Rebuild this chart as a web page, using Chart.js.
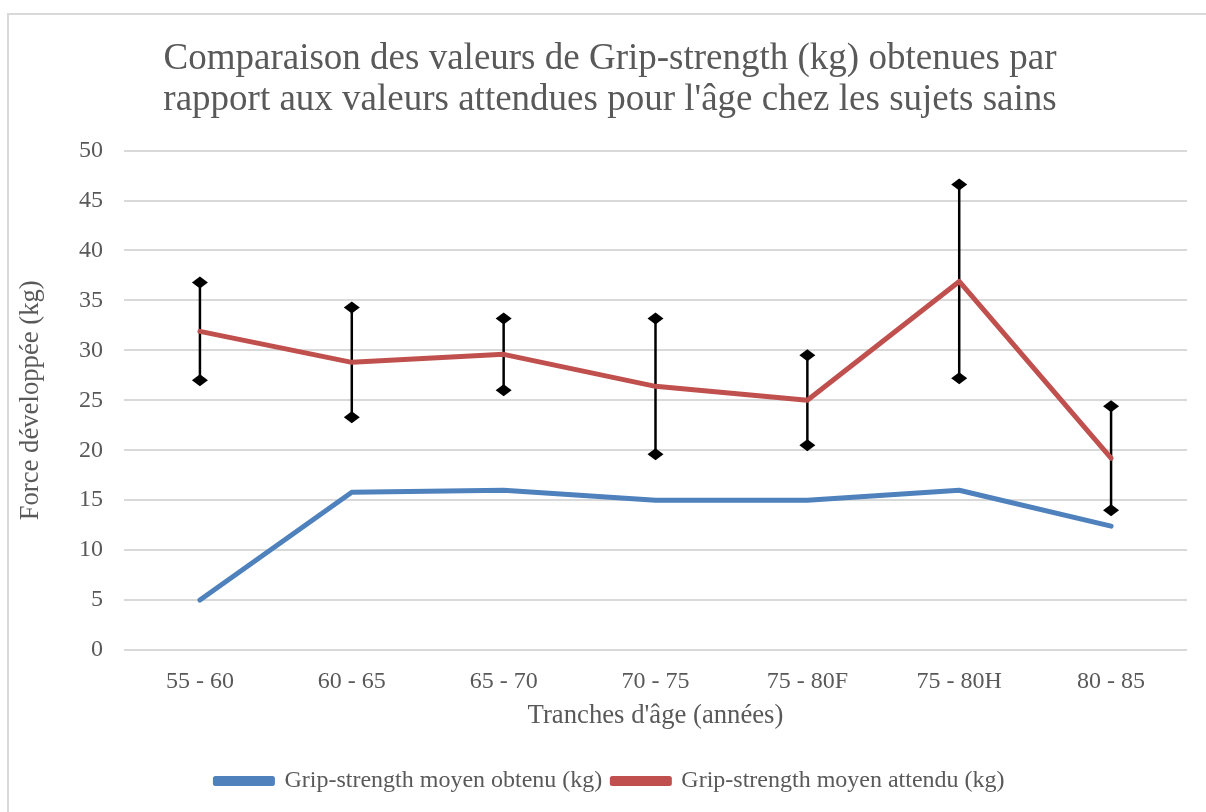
<!DOCTYPE html>
<html>
<head>
<meta charset="utf-8">
<script src="https://cdn.jsdelivr.net/npm/chart.js"></script>
<style>
  html, body { margin: 0; padding: 0; background: #fff; overflow: hidden; }
  #frame { position: absolute; left: 7px; top: 13px; width: 1210px; height: 820px; border: 2px solid #d9d9d9; }
  #wrap { position: absolute; left: 0; top: 0; width: 1206px; height: 812px; }
</style>
</head>
<body>
<div id="frame"></div>
<div id="wrap"><canvas id="gripChart"></canvas></div>
<script>
const ageGroups = ["55 - 60", "60 - 65", "65 - 70", "70 - 75", "75 - 80F", "75 - 80H", "80 - 85"];
const obtained = [5.0, 15.8, 16.0, 15.0, 15.0, 16.0, 12.4];
const expected = [31.9, 28.8, 29.6, 26.4, 25.0, 36.9, 19.2];
const expectedSD = [4.9, 5.5, 3.6, 6.8, 4.5, 9.7, 5.2];
const yTicks = [0, 5, 10, 15, 20, 25, 30, 35, 40, 45, 50];

const serif = "'Liberation Serif', 'Times New Roman', serif";
const grey = '#595959';

// barres d'erreur (écart-type) sous la courbe rouge
const errorBars = {
  id: 'errorBars',
  beforeDatasetsDraw(chart) {
    const meta = chart.getDatasetMeta(1);
    const y = chart.scales.y;
    const ctx = chart.ctx;
    ctx.save();
    ctx.strokeStyle = '#000';
    ctx.fillStyle = '#000';
    ctx.lineWidth = 2.5;
    meta.data.forEach((pt, i) => {
      const yt = y.getPixelForValue(expected[i] + expectedSD[i]);
      const yb = y.getPixelForValue(expected[i] - expectedSD[i]);
      ctx.beginPath();
      ctx.moveTo(pt.x, yt);
      ctx.lineTo(pt.x, yb);
      ctx.stroke();
      [yt, yb].forEach(yy => {
        ctx.beginPath();
        ctx.moveTo(pt.x - 8, yy);
        ctx.lineTo(pt.x, yy - 6);
        ctx.lineTo(pt.x + 8, yy);
        ctx.lineTo(pt.x, yy + 6);
        ctx.closePath();
        ctx.fill();
      });
    });
    ctx.restore();
  }
};

new Chart(document.getElementById('gripChart'), {
  type: 'line',
  data: {
    labels: ageGroups,
    datasets: [{
      label: 'Grip-strength moyen obtenu (kg)',
      data: obtained,
      borderColor: '#4F81BD',
      backgroundColor: '#4F81BD',
      borderWidth: 5,
      pointRadius: 0,
      borderCapStyle: 'round',
      borderJoinStyle: 'round',
      tension: 0
    }, {
      label: 'Grip-strength moyen attendu (kg)',
      data: expected,
      borderColor: '#C0504D',
      backgroundColor: '#C0504D',
      borderWidth: 5,
      pointRadius: 0,
      borderCapStyle: 'round',
      borderJoinStyle: 'round',
      tension: 0
    }]
  },
  options: {
    responsive: true,
    maintainAspectRatio: false,
    animation: false,
    layout: { padding: { left: 14, right: 0, top: 0, bottom: 9 } },
    plugins: {
      title: {
        display: true,
        text: ["Comparaison des valeurs de Grip-strength (kg) obtenues par",
               "rapport aux valeurs attendues pour l'âge chez les sujets sains"],
        color: grey,
        font: { family: serif, size: 37, weight: 'normal', lineHeight: 1.13 },
        padding: { top: 38, bottom: 29 }
      },
      legend: {
        position: 'bottom',
        labels: {
          color: grey,
          font: { family: serif, size: 24 },
          boxWidth: 57,
          boxHeight: 5,
          padding: 10
        }
      },
      tooltip: { enabled: false }
    },
    scales: {
      x: {
        offset: true,
        grid: { display: false },
        border: { display: false },
        ticks: { color: grey, font: { family: serif, size: 24 }, padding: 9, maxRotation: 0 },
        title: {
          display: true,
          text: "Tranches d'âge (années)",
          color: grey,
          font: { family: serif, size: 26.7 },
          padding: { top: 0, bottom: 27 }
        },
        afterFit(scale) { scale.height = 109; }
      },
      y: {
        min: 0,
        max: 50,
        afterBuildTicks(scale) { scale.ticks = yTicks.map(v => ({ value: v })); },
        grid: { color: '#d9d9d9', lineWidth: 2, drawTicks: false },
        border: { display: false },
        ticks: { color: grey, font: { family: serif, size: 24 }, padding: 21 },
        title: {
          display: true,
          text: 'Force développée (kg)',
          color: grey,
          font: { family: serif, size: 26.7 },
          padding: 1
        },
        afterFit(scale) { scale.width = 110; }
      },
      y2: {
        position: 'right',
        display: true,
        grid: { display: false },
        border: { display: false },
        ticks: { display: false },
        afterFit(scale) { scale.width = 19; }
      }
    }
  },
  plugins: [errorBars]
});
</script>
</body>
</html>
